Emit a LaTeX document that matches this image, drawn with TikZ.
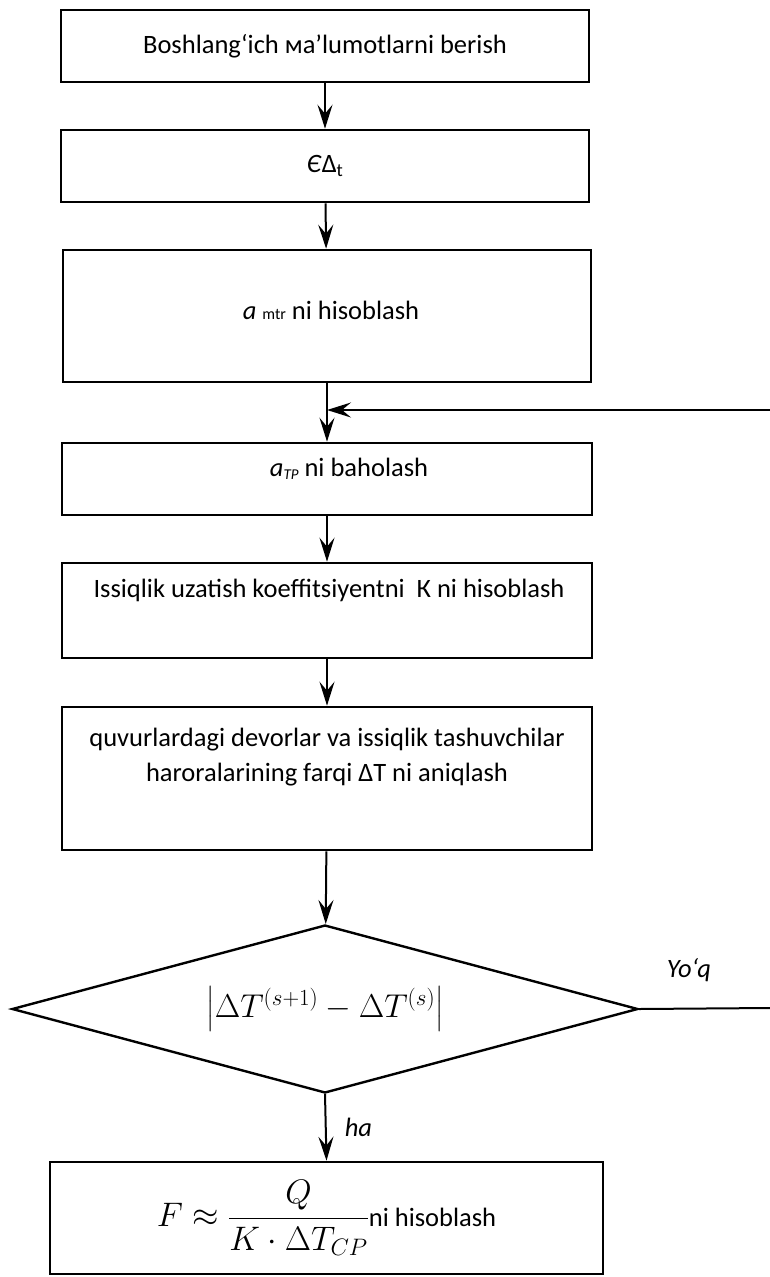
\RequirePackage{fix-cm}
\documentclass[tikz,border=0pt]{standalone}
\usepackage{amsmath}
\usepackage{fontspec}
\setmainfont{Carlito}
\usetikzlibrary{arrows.meta,shapes.geometric,positioning}

\tikzset{
  blok/.style={draw,line width=2.6pt,minimum width=528pt,inner sep=0pt},
  romb/.style={draw,diamond,line width=2.4pt,aspect=3.73,minimum width=626pt,minimum height=168pt,inner sep=0pt},
  yozuv/.style={font=\fontsize{26.5}{35}\selectfont,align=center,inner sep=0pt},
  liniya/.style={line width=2pt},
  strelka/.style={liniya,-{Stealth[length=24pt,width=15pt,inset=9pt]}},
}

\begin{document}
\begin{tikzpicture}[x=1pt,y=-1pt]
  \useasboundingbox (0,0) rectangle (770,1277);
  % bloklar
  \node[blok,yozuv,minimum height=72pt] (start) at (325,46) {Boshlang‘ich мa’lumotlarni berish};
  \node[blok,yozuv,minimum height=72pt] (eps) at (325,166) {\textit{Є}Δ\textsubscript{t}};
  \node[blok,minimum height=132pt] (alfa) at (327,316) {};
  \node[yozuv] (alfaText) at (331,310) {\textit{a} {\fontsize{16}{18}\selectfont mtr} ni hisoblash};
  \node[blok,minimum width=530pt,minimum height=72pt] (baho) at (327,479) {};
  \node[yozuv] (bahoText) at (349,469) {\textit{a\raisebox{-3pt}{\fontsize{15}{18}\selectfont TP}} ni baholash};
  \node[blok,minimum width=530pt,minimum height=95pt] (koef) at (327,610.5) {};
  \node[yozuv] (koefText) at (329,590) {Issiqlik uzatish koeffitsiyentni\ \ К ni hisoblash};
  \node[blok,minimum width=530pt,minimum height=143pt] (farq) at (327,778.5) {};
  \node[yozuv] (farqText) at (327,757) {quvurlardagi devorlar va issiqlik tashuvchilar\\haroralarining farqi ΔT ni aniqlash};
  \node[romb] (tekshir) at (325,1009) {\fontsize{33}{40}\selectfont$\left|\Delta T^{(s+1)}-\Delta T^{(s)}\right|$};
  \node[blok,yozuv,minimum width=553pt,minimum height=112pt] (natija) at (326.5,1218)
    {{\fontsize{34}{40}\selectfont$F\approx\dfrac{Q}{K\cdot\Delta T_{CP}}$}ni hisoblash};

  % strelkalar
  \draw[strelka] (start) -- (eps);
  \draw[strelka] (eps) -- (alfa);
  \draw[strelka] (alfa) -- (baho);
  \draw[strelka] (baho) -- (koef);
  \draw[strelka] (koef) -- (farq);
  \draw[strelka] (farq) -- (tekshir);
  \draw[strelka] (tekshir.south) -- node[yozuv,midway,right=18pt] (ha) {\textit{ha}} (natija.north);

  % qaytish
  \coordinate (yoqEnd) at (770,1008);
  \coordinate (qaytish) at (770,410);
  \draw[liniya] (tekshir.east) -- (yoqEnd);
  \node[yozuv] (yoq) at (689,970) {\textit{Yo‘q}};
  \draw[strelka] (qaytish) -- (qaytish -| alfa.south);
\end{tikzpicture}
\end{document}
